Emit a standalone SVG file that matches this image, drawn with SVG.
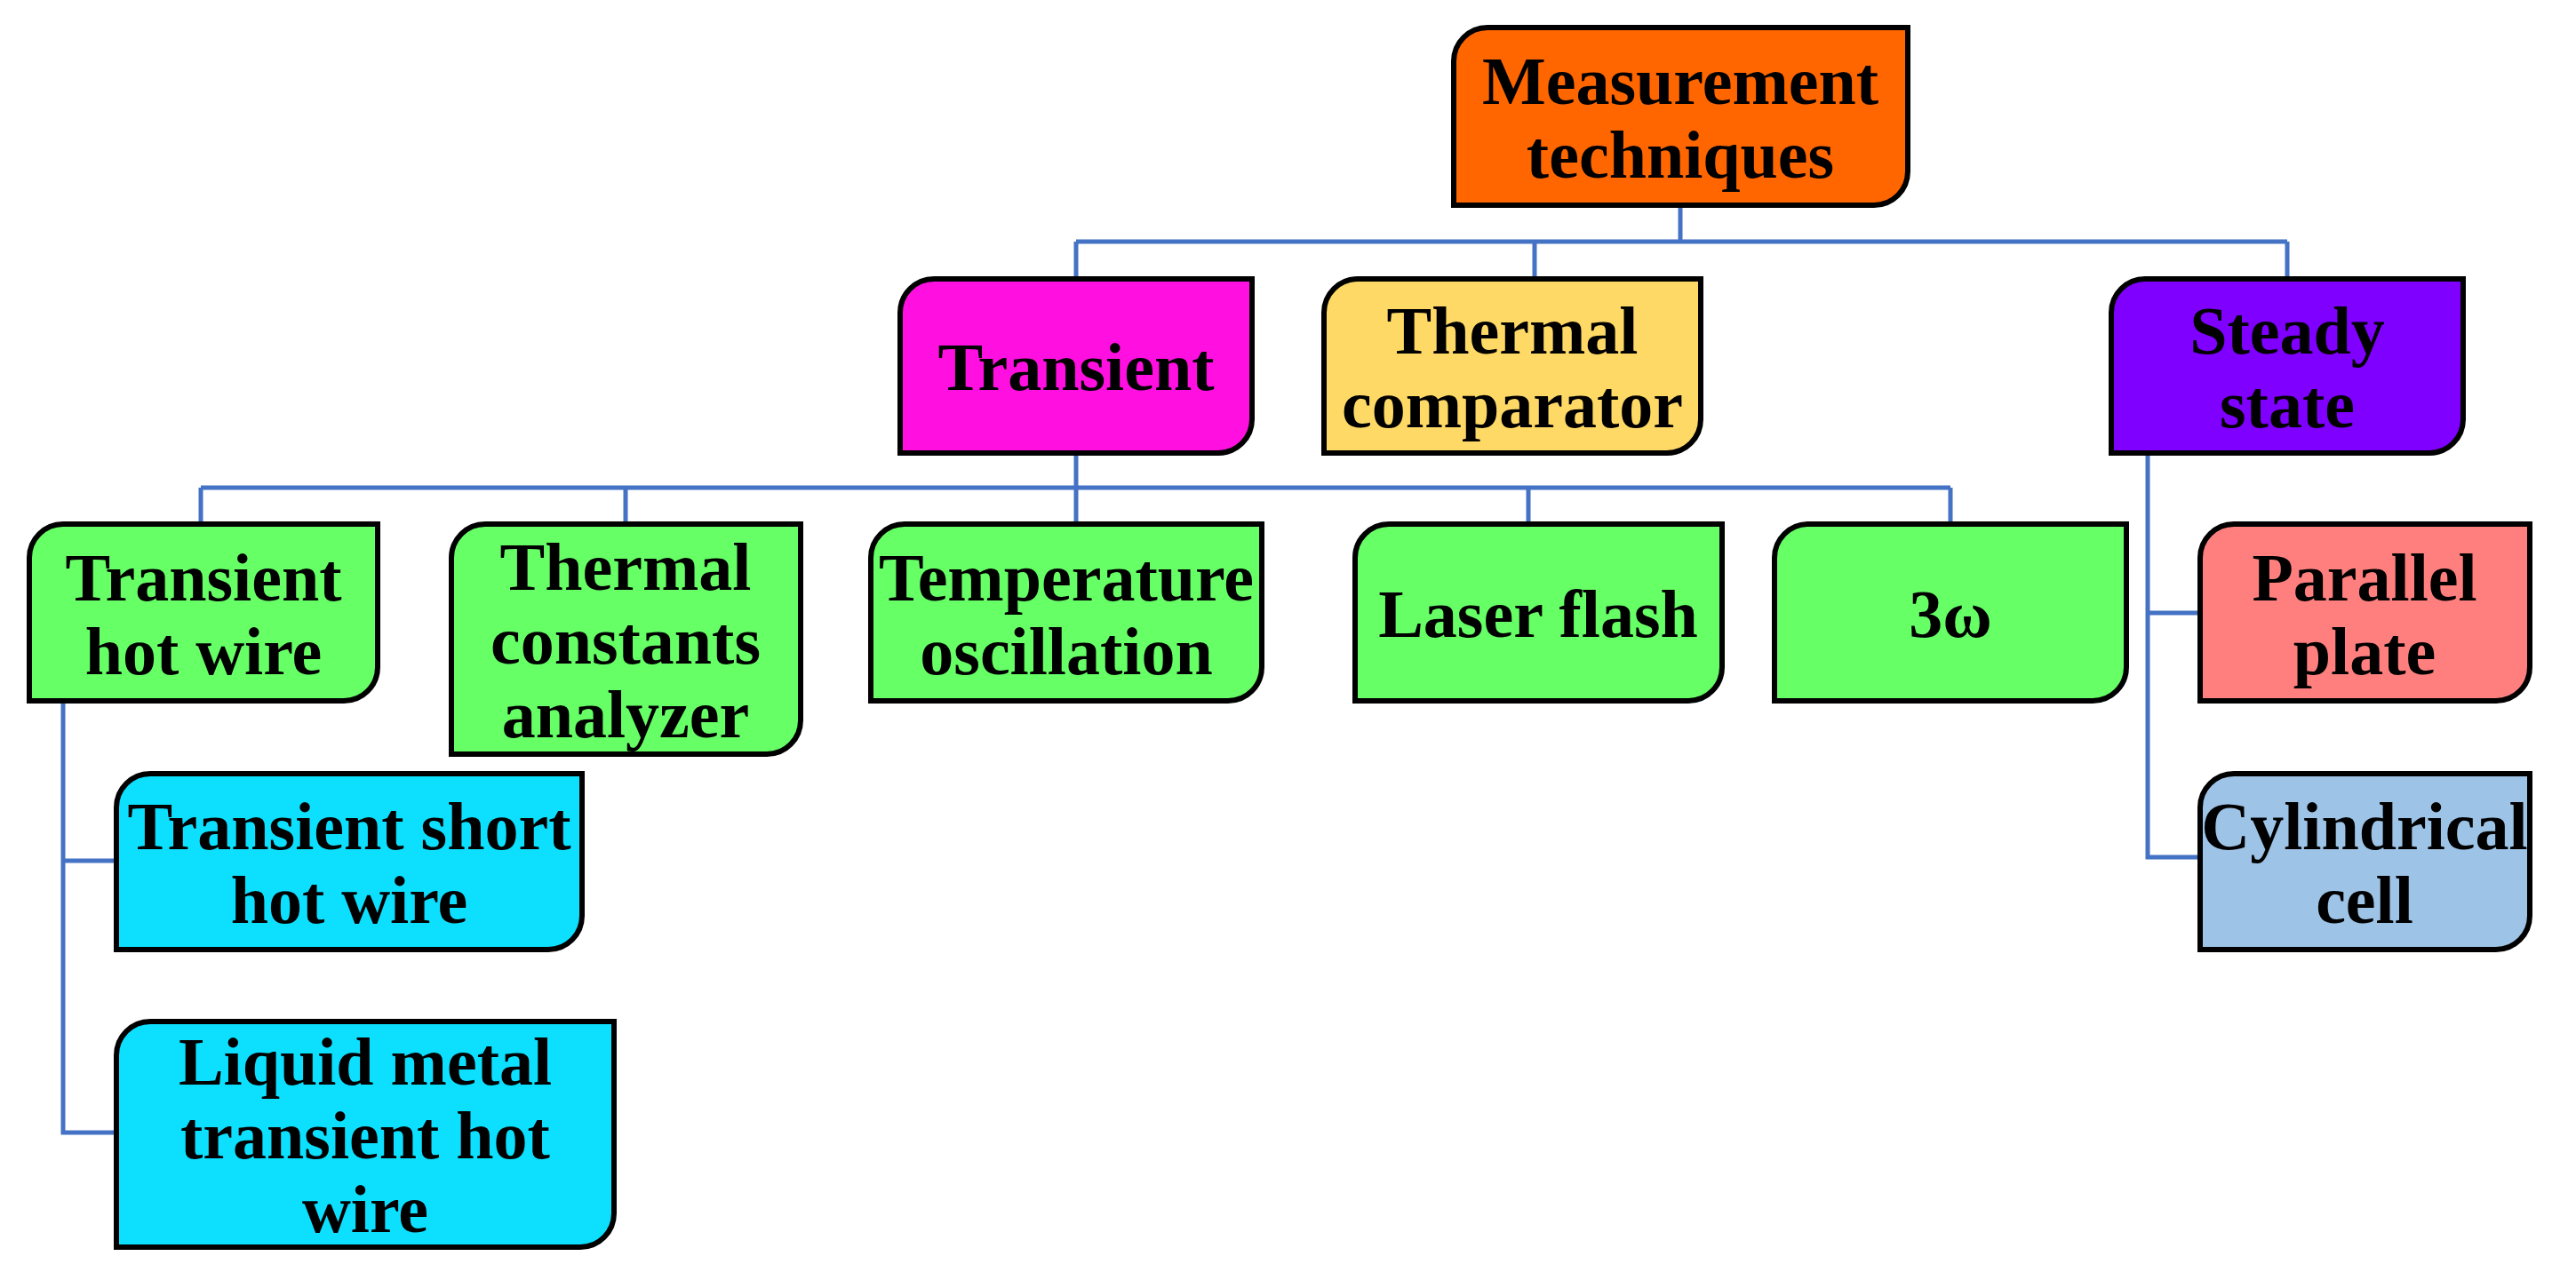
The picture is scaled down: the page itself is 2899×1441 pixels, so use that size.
<svg xmlns="http://www.w3.org/2000/svg" width="2899" height="1441" viewBox="0 0 2899 1441">
<style>
.b{stroke:#000;stroke-width:6}
text{font-family:"Liberation Serif","Times New Roman",serif;font-weight:bold;font-size:76px;text-anchor:middle;fill:#000}
.c{fill:none;stroke:#4472C4;stroke-width:5}
</style>
<rect width="2899" height="1441" fill="#fff"/>
<g id="connectors" class="c">
<path d="M1891,231V272M1211,272H2574M1211,272V314M1727,272V314M2574,272V314"/>
<path d="M1211,510V549M226,549H2195M226,549V590M704,549V590M1211,549V590M1720,549V590M2195,549V590"/>
<path d="M71,789V1275H131M71,969H131"/>
<path d="M2417,510V965H2476M2417,690H2476"/>
</g>
<g id="root"><path class="b" fill="#FF6600" d="M1636,69A38,38 0 0 1 1674,31H2147V193A38,38 0 0 1 2109,231H1636Z"/><text x="1891" y="117">Measurement</text><text x="1891" y="200">techniques</text></g>
<g id="transient"><path class="b" fill="#FF10E0" d="M1013,352A38,38 0 0 1 1051,314H1409V472A38,38 0 0 1 1371,510H1013Z"/><text x="1211" y="439">Transient</text></g>
<g id="thermal-comparator"><path class="b" fill="#FFD966" d="M1490,352A38,38 0 0 1 1528,314H1914V472A38,38 0 0 1 1876,510H1490Z"/><text x="1702" y="398">Thermal</text><text x="1702" y="481">comparator</text></g>
<g id="steady-state"><path class="b" fill="#7F00FF" d="M2376,352A38,38 0 0 1 2414,314H2772V472A38,38 0 0 1 2734,510H2376Z"/><text x="2574" y="398">Steady</text><text x="2574" y="481">state</text></g>
<g id="transient-hot-wire"><path class="b" fill="#66FF66" d="M33,628A38,38 0 0 1 71,590H425V751A38,38 0 0 1 387,789H33Z"/><text x="229" y="676">Transient</text><text x="229" y="759">hot wire</text></g>
<g id="thermal-constants-analyzer"><path class="b" fill="#66FF66" d="M508,628A38,38 0 0 1 546,590H901V811A38,38 0 0 1 863,849H508Z"/><text x="704" y="664">Thermal</text><text x="704" y="747">constants</text><text x="704" y="830">analyzer</text></g>
<g id="temperature-oscillation"><path class="b" fill="#66FF66" d="M980,628A38,38 0 0 1 1018,590H1420V751A38,38 0 0 1 1382,789H980Z"/><text x="1200" y="676">Temperature</text><text x="1200" y="759">oscillation</text></g>
<g id="laser-flash"><path class="b" fill="#66FF66" d="M1525,628A38,38 0 0 1 1563,590H1938V751A38,38 0 0 1 1900,789H1525Z"/><text x="1731" y="717">Laser flash</text></g>
<g id="three-omega"><path class="b" fill="#66FF66" d="M1997,628A38,38 0 0 1 2035,590H2393V751A38,38 0 0 1 2355,789H1997Z"/><text x="2195" y="717">3ω</text></g>
<g id="parallel-plate"><path class="b" fill="#FF7F7F" d="M2476,628A38,38 0 0 1 2514,590H2847V751A38,38 0 0 1 2809,789H2476Z"/><text x="2661" y="676">Parallel</text><text x="2661" y="759">plate</text></g>
<g id="cylindrical-cell"><path class="b" fill="#9DC3E6" d="M2476,909A38,38 0 0 1 2514,871H2847V1031A38,38 0 0 1 2809,1069H2476Z"/><text x="2661" y="956">Cylindrical</text><text x="2661" y="1039">cell</text></g>
<g id="transient-short-hot-wire"><path class="b" fill="#0DE0FF" d="M131,909A38,38 0 0 1 169,871H655V1031A38,38 0 0 1 617,1069H131Z"/><text x="393" y="956">Transient short</text><text x="393" y="1039">hot wire</text></g>
<g id="liquid-metal"><path class="b" fill="#0DE0FF" d="M131,1188A38,38 0 0 1 169,1150H691V1366A38,38 0 0 1 653,1404H131Z"/><text x="411" y="1221">Liquid metal</text><text x="411" y="1304">transient hot</text><text x="411" y="1387">wire</text></g>
</svg>
